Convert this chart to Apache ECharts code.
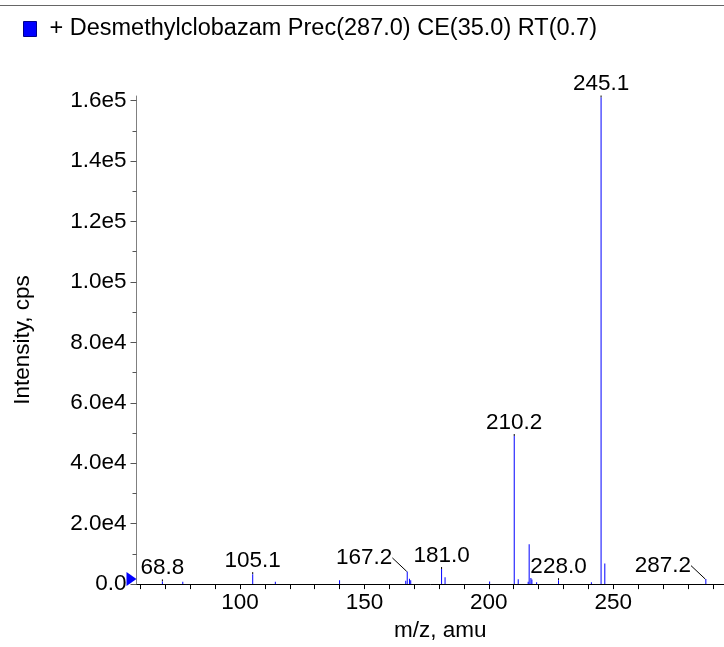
<!DOCTYPE html>
<html>
<head>
<meta charset="utf-8">
<script src="https://cdn.jsdelivr.net/npm/echarts@6/dist/echarts.min.js"></script>
<style>
  html, body { margin: 0; padding: 0; background: #fff; }
  #chart { width: 724px; height: 647px; }
</style>
</head>
<body>
<div id="chart"></div>
<script>
// peak list (m/z, intensity in cps)
const peakMz = [68.8, 77.0, 105.1, 114.2, 140.0, 166.6, 167.2, 168.1, 168.6, 181.0, 182.4, 200.3,
  210.2, 211.8, 215.8, 216.2, 216.9, 217.3, 219.2, 228.0, 241.2, 245.1, 246.6, 287.2]
const peakIntensity = [900, 800, 3300, 800, 1300, 1100, 4200, 1800, 1300, 5000, 2300, 900,
  49000, 1600, 800, 13200, 2000, 1500, 600, 1300, 600, 161000, 6800, 1650]
const peakLabels = ['68.8', '', '105.1', '', '', '', '167.2', '', '', '181.0', '', '',
  '210.2', '', '', '', '', '', '', '228.0', '', '245.1', '', '287.2']

const xTickValues = [60, 70, 80, 90, 100, 110, 120, 130, 140, 150, 160, 170, 180, 190, 200,
  210, 220, 230, 240, 250, 260, 270, 280, 290]
const xLabelValues = [100, 150, 200, 250]
const yLabelValues = [0, 20000, 40000, 60000, 80000, 100000, 120000, 140000, 160000]
const yMinorValues = [10000, 30000, 50000, 70000, 90000, 110000, 130000, 150000]

const seriesName = '+ Desmethylclobazam Prec(287.0) CE(35.0) RT(0.7)'
const xMin = 58.4
const xMax = 294.5
const yMax = 161500

// labels drawn aside with a guide line
const leaderLabels = ['167.2', '287.2']

const font = 'Liberation Sans, Arial, Helvetica, sans-serif'
const fs = 22.5
const fmtY = v => (v === 0 ? '0.0' : v.toExponential(1).replace('e+', 'e'))

const chart = echarts.init(document.getElementById('chart'))
chart.setOption({
  animation: false,
  textStyle: { fontFamily: font },
  graphic: [{
    type: 'line',
    shape: { x1: 0, y1: 5.5, x2: 724, y2: 5.5 },
    style: { stroke: '#666', lineWidth: 1 }
  }],
  legend: {
    left: 18,
    top: 12,
    itemWidth: 13,
    itemHeight: 15,
    itemGap: 10,
    icon: 'rect',
    textStyle: { fontSize: 23.5, color: '#000', fontFamily: font, padding: [0, 0, 0, 8] },
    data: [{ name: seriesName, itemStyle: { color: '#0000ff', borderColor: '#00008b', borderWidth: 1 } }]
  },
  grid: {
    left: 136.5,
    right: 0,
    top: 96,
    bottom: 61
  },
  xAxis: {
    type: 'value',
    min: xMin,
    max: xMax,
    name: 'm/z, amu',
    nameLocation: 'middle',
    nameGap: 33,
    nameTextStyle: { fontSize: fs, color: '#000', padding: [0, 0, 0, 20] },
    axisLine: { lineStyle: { color: '#000', width: 1 } },
    axisTick: { customValues: xTickValues, length: 5, lineStyle: { color: '#000' } },
    axisLabel: { customValues: xLabelValues, fontSize: fs, color: '#000', margin: 7 },
    splitLine: { show: false }
  },
  yAxis: [{
    type: 'value',
    min: 0,
    max: yMax,
    name: 'Intensity, cps',
    nameLocation: 'middle',
    nameGap: 102,
    nameTextStyle: { fontSize: fs, color: '#000' },
    axisLine: { show: true, lineStyle: { color: '#808080', width: 1 } },
    axisTick: { show: true, customValues: yLabelValues, length: 6, lineStyle: { color: '#555' } },
    axisLabel: { customValues: yLabelValues, formatter: fmtY, fontSize: fs, color: '#000', margin: 10 },
    splitLine: { show: false }
  }, {
    type: 'value',
    min: 0,
    max: yMax,
    position: 'left',
    axisLine: { show: false },
    axisTick: { show: true, customValues: yMinorValues, length: 4, lineStyle: { color: '#555' } },
    axisLabel: { show: false },
    splitLine: { show: false }
  }],
  series: [{
    name: seriesName,
    type: 'bar',
    barWidth: 1,
    itemStyle: { color: '#0000ff' },
    data: peakMz.map((mz, i) => ({
      value: [mz, peakIntensity[i]],
      label: { show: peakLabels[i] !== '' }
    })),
    label: {
      position: 'top',
      distance: 2,
      fontSize: fs,
      color: '#000',
      fontFamily: font,
      formatter: p => peakLabels[p.dataIndex]
    },
    labelLine: { show: true, lineStyle: { color: '#000', width: 1 } },
    labelLayout: p => {
      if (leaderLabels.includes(peakLabels[p.dataIndex])) return { dx: -43, dy: 0 }
      return {}
    },
    markPoint: {
      symbol: 'triangle',
      symbolSize: [14, 10],
      symbolRotate: -90,
      symbolOffset: [-5, -5],
      itemStyle: { color: '#0000ff' },
      label: { show: false },
      data: [{ coord: [xMin, 0] }]
    }
  }]
})
</script>
</body>
</html>
